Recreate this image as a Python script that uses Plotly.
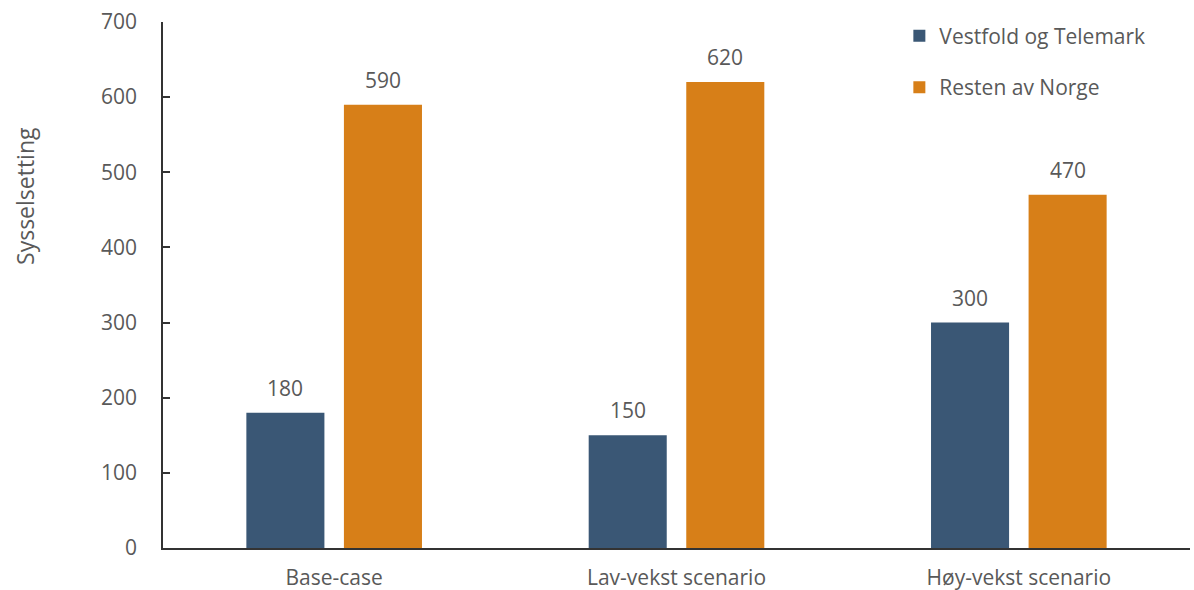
import plotly.graph_objects as go

categories = ["Base-case", "Lav-vekst scenario", "Høy-vekst scenario"]
series_names = ["Vestfold og Telemark", "Resten av Norge"]
vestfold = [180, 150, 300]
resten = [590, 620, 470]
y_ticks = [0, 100, 200, 300, 400, 500, 600, 700]

colors = ["#3A5775", "#D77F18"]
FONT = "Open Sans"
TXT = "#595959"
FS = 21
BARGAP = 0.43
GROUPGAP = 0.2

fig = go.Figure()
for i, (name, vals) in enumerate(zip(series_names, [vestfold, resten])):
    fig.add_trace(go.Bar(
        x=list(range(len(categories))), y=vals, name=name,
        marker=dict(color=colors[i], line=dict(width=0)),
        legendgroup=f"g{i}",
    ))
    off = (i - 0.5) * (1 - BARGAP) / 2
    for j, v in enumerate(vals):
        fig.add_annotation(x=j + off, y=v, text=str(v), showarrow=False,
                           yanchor="bottom", yshift=9,
                           font=dict(family=FONT, size=FS, color=TXT))

fig.add_annotation(xref="paper", yref="paper", x=-0.135, y=0.67,
                   text="Sysselsetting", textangle=-90, showarrow=False,
                   xanchor="center", yanchor="middle",
                   font=dict(family=FONT, size=23, color=TXT))

fig.update_layout(
    width=1194, height=590,
    margin=dict(l=163, r=4, t=22, b=42, autoexpand=False),
    paper_bgcolor="white", plot_bgcolor="white",
    barmode="group", bargap=BARGAP, bargroupgap=GROUPGAP,
    font=dict(family=FONT, size=FS, color=TXT),
    legend=dict(x=0.717, y=1.012, xanchor="left", yanchor="top",
                traceorder="grouped", tracegroupgap=21,
                font=dict(family=FONT, size=FS, color=TXT),
                bgcolor="rgba(0,0,0,0)"),
    xaxis=dict(tickmode="array", tickvals=list(range(len(categories))),
               ticktext=categories, range=[-0.5, 2.5],
               showline=True, linecolor="#333333", linewidth=1.5,
               ticks="", showgrid=False, zeroline=False,
               ticklabelstandoff=10, automargin=False),
    yaxis=dict(range=[0, 700], tickvals=y_ticks, showline=True,
               linecolor="#333333", linewidth=1.5, ticks="inside",
               ticklen=7, tickcolor="#333333", tickwidth=1.5,
               showgrid=False, zeroline=False, ticklabelstandoff=20,
               automargin=False),
)

fig.write_html("out.html")
